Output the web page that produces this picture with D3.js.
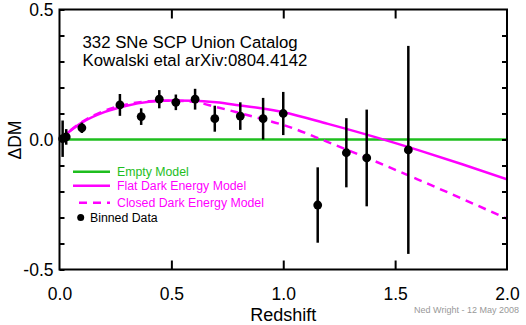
<!DOCTYPE html>
<html>
<head>
<meta charset="utf-8">
<script src="https://cdn.jsdelivr.net/npm/d3@7"></script>
<style>
  body { margin: 0; background: #fff; }
  text { font-family: "Liberation Sans", Arial, sans-serif; }
</style>
</head>
<body>
<div id="chart"></div>
<script>
// binned data (redshift, delta DM, error)
var binZ   = [0.014, 0.03, 0.10, 0.27, 0.365, 0.446, 0.52, 0.606, 0.694, 0.808, 0.91, 1.0, 1.154, 1.282, 1.373, 1.559];
var binDM  = [0.003, 0.01, 0.045, 0.133, 0.088, 0.155, 0.143, 0.155, 0.08, 0.09, 0.08, 0.10, -0.252, -0.051, -0.071, -0.04];
var binErr = [0.07, 0.03, 0.02, 0.042, 0.032, 0.035, 0.03, 0.04, 0.05, 0.053, 0.08, 0.083, 0.145, 0.133, 0.186, 0.40];

// model curves
var modelZ    = [0, 0.1, 0.2, 0.3, 0.4, 0.5, 0.6, 0.7, 0.8, 0.9, 1.0, 1.2, 1.4, 1.6, 1.8, 2.0];
var flatDM    = [0, 0.065, 0.105, 0.13, 0.145, 0.15, 0.149, 0.143, 0.132, 0.12, 0.105, 0.06, 0.012, -0.04, -0.095, -0.153];
var closedDM  = [0, 0.067, 0.11, 0.135, 0.147, 0.149, 0.145, 0.125, 0.103, 0.08, 0.056, -0.01, -0.08, -0.153, -0.228, -0.305];
var emptyDM   = [0, 0];
var emptyZ    = [0, 2];

var xTicks = [0.0, 0.5, 1.0, 1.5, 2.0];
var yTicks = [-0.5, 0.0, 0.5];
var yMinor = d3.range(-5, 6).map(function(i) { return i / 10; });

var W = 526, H = 325;
var margin = {top: 9.5, right: 19, bottom: 55.5, left: 59.5},
    width = W - margin.left - margin.right,
    height = H - margin.top - margin.bottom;

var green = "#1ebe1e", magenta = "#ff00ff";

var root = d3.select("#chart").append("svg")
    .attr("width", W).attr("height", H);

var svg = root.append("g")
    .attr("transform", "translate(" + margin.left + "," + margin.top + ")");

var x = d3.scaleLinear().domain([0, 2]).range([0, width]);
var y = d3.scaleLinear().domain([-0.5, 0.5]).range([height, 0]);

// clip so curves stay inside frame
svg.append("clipPath").attr("id", "clip")
  .append("rect").attr("width", width).attr("height", height);

var plot = svg.append("g").attr("clip-path", "url(#clip)");

// empty model
plot.append("path")
  .datum(emptyZ.map(function(z, i) { return [z, emptyDM[i]]; }))
  .attr("fill", "none").attr("stroke", green).attr("stroke-width", 2.5)
  .attr("d", d3.line().x(function(d) { return x(d[0]); }).y(function(d) { return y(d[1]); }));

var curve = d3.line()
  .x(function(d) { return x(d[0]); })
  .y(function(d) { return y(d[1]); })
  .curve(d3.curveMonotoneX);

plot.append("path")
  .datum(modelZ.map(function(z, i) { return [z, flatDM[i]]; }))
  .attr("fill", "none").attr("stroke", magenta).attr("stroke-width", 2.5)
  .attr("d", curve);

plot.append("path")
  .datum(modelZ.map(function(z, i) { return [z, closedDM[i]]; }))
  .attr("fill", "none").attr("stroke", magenta).attr("stroke-width", 2.5)
  .attr("stroke-dasharray", "8,6")
  .attr("d", curve);

// error bars + points
var bins = binZ.map(function(z, i) { return {z: z, dm: binDM[i], e: binErr[i]}; });

svg.selectAll(".err")
  .data(bins)
  .enter().append("line")
    .attr("class", "err")
    .attr("x1", function(d) { return x(d.z); })
    .attr("x2", function(d) { return x(d.z); })
    .attr("y1", function(d) { return y(d.dm - d.e); })
    .attr("y2", function(d) { return y(d.dm + d.e); })
    .attr("stroke", "black").attr("stroke-width", 2.5);

svg.selectAll(".pt")
  .data(bins)
  .enter().append("circle")
    .attr("class", "pt")
    .attr("cx", function(d) { return x(d.z); })
    .attr("cy", function(d) { return y(d.dm); })
    .attr("r", 4.4)
    .attr("fill", "black");

// frame
svg.append("rect")
  .attr("width", width).attr("height", height)
  .attr("fill", "none").attr("stroke", "black").attr("stroke-width", 2);

// axes: ticks point inward, labels only on major values
var xb = svg.append("g").attr("transform", "translate(0," + height + ")")
  .call(d3.axisBottom(x).tickValues(xTicks).tickFormat(d3.format(".1f")).tickSizeInner(-9).tickSizeOuter(0).tickPadding(18));
var xt = svg.append("g")
  .call(d3.axisTop(x).tickValues([0.5, 1.0, 1.5]).tickFormat("").tickSizeInner(-9).tickSizeOuter(0));
var yl = svg.append("g")
  .call(d3.axisLeft(y).tickValues(yMinor).tickFormat(function(d) {
      return yTicks.some(function(t) { return Math.abs(t - d) < 1e-9; }) ? d3.format(".1f")(d).replace("−", "-") : "";
    }).tickSizeInner(-5).tickSizeOuter(0).tickPadding(6));
var yr = svg.append("g").attr("transform", "translate(" + width + ",0)")
  .call(d3.axisRight(y).tickValues(yMinor.slice(1, -1)).tickFormat("").tickSizeInner(-5).tickSizeOuter(0));

[xb, xt, yl, yr].forEach(function(a) {
  a.select(".domain").remove();
  a.selectAll("line").attr("stroke", "black").attr("stroke-width", 2);
  a.selectAll("text").attr("font-size", 17.5).attr("fill", "black")
    .style("font-family", "'Liberation Sans', Arial, sans-serif");
});
xb.selectAll("line").filter(function(d) { return d === 0 || d === 2; }).remove();

// titles
svg.append("text").attr("x", 23).attr("y", 38.8)
  .attr("font-size", 16.8).text("332 SNe SCP Union Catalog");
svg.append("text").attr("x", 23).attr("y", 56.3)
  .attr("font-size", 16.8).text("Kowalski etal arXiv:0804.4142");

root.append("text")
  .attr("transform", "translate(21,140) rotate(-90)")
  .attr("text-anchor", "middle").attr("font-size", 17.5)
  .text("ΔDM");

root.append("text").attr("x", margin.left + width / 2).attr("y", 321)
  .attr("text-anchor", "middle").attr("font-size", 18).text("Redshift");

root.append("text").attr("x", 519).attr("y", 313)
  .attr("text-anchor", "end").attr("font-size", 9).attr("fill", "#999")
  .text("Ned Wright - 12 May 2008");

// legend
var legend = [
  {label: "Empty Model", color: green, dash: null, y: 171.7},
  {label: "Flat Dark Energy Model", color: magenta, dash: null, y: 185.7},
  {label: "Closed Dark Energy Model", color: magenta, dash: "8,6", y: 202.7}
];
var lg = root.append("g");
legend.forEach(function(l) {
  lg.append("line").attr("x1", l.dash ? 79 : 73).attr("x2", 110)
    .attr("y1", l.y).attr("y2", l.y)
    .attr("stroke", l.color).attr("stroke-width", 2.5)
    .attr("stroke-dasharray", l.dash);
  lg.append("text").attr("x", 117).attr("y", l.y + 4.5)
    .attr("font-size", 12.3).attr("fill", l.color).text(l.label);
});
lg.append("circle").attr("cx", 80.7).attr("cy", 217.5).attr("r", 3.5).attr("fill", "black");
lg.append("text").attr("x", 90).attr("y", 222).attr("font-size", 12.3).text("Binned Data");
</script>
</body>
</html>
